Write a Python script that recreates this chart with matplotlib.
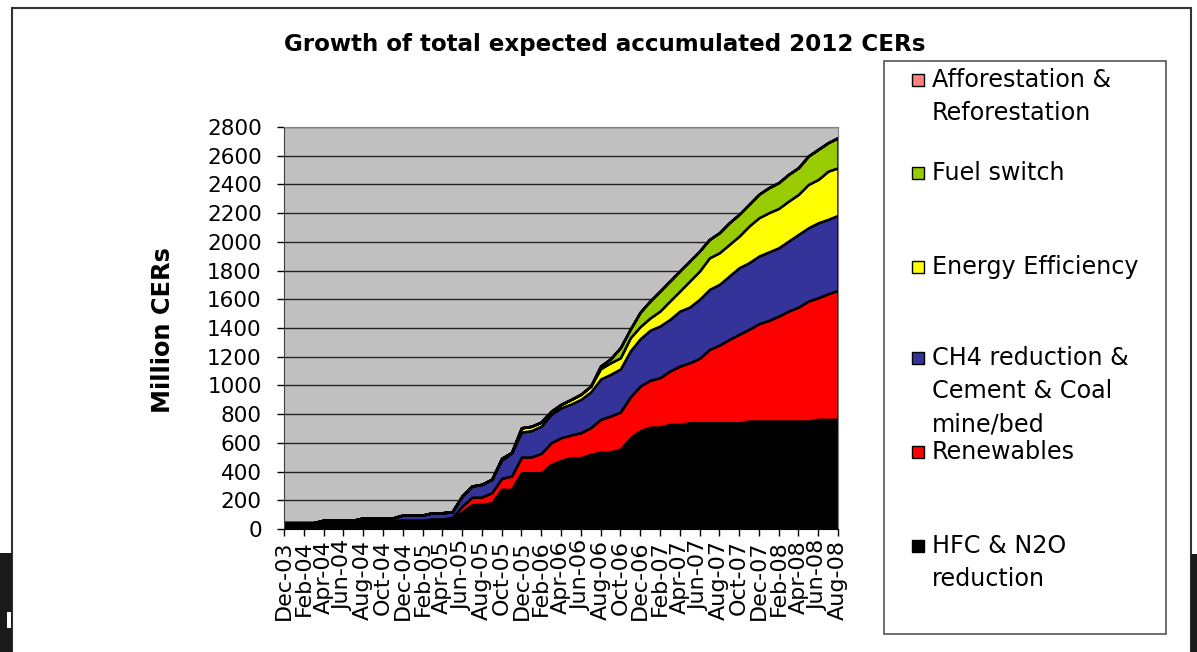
import matplotlib
matplotlib.use('Agg')
import matplotlib.pyplot as plt
from matplotlib.patches import Rectangle
import numpy as np

# monthly values Dec-03 .. Aug-08 (million CERs)
hfc = [44, 44, 44, 44, 61, 61, 61, 61, 61, 61, 61, 61, 62, 62, 62, 70, 70, 72, 120,
       170, 172, 183, 276, 276, 392, 392, 392, 450, 478, 497, 497, 520, 535, 538, 555,
       636, 685, 710, 710, 729, 729, 740, 740, 740, 740, 740, 740, 752, 752, 752, 752,
       752, 752, 752, 764, 764, 764]
renew = [0, 0, 0, 0, 0, 0, 0, 0, 0, 0, 0, 0, 0, 0, 0, 0, 0, 8, 40,
         51, 51, 70, 77, 93, 109, 110, 135, 151, 158, 158, 174, 186, 229, 249, 260,
         284, 311, 326, 344, 371, 406, 418, 449, 511, 541, 581, 616, 639, 678, 701, 731,
         766, 794, 836, 847, 875, 898]
ch4 = [0, 0, 0, 0, 0, 0, 0, 0, 16, 16, 16, 16, 35, 35, 35, 43, 43, 40, 70,
       78, 88, 93, 127, 161, 174, 183, 190, 197, 209, 215, 232, 249, 281, 290, 300,
       320, 329, 349, 360, 360, 383, 388, 411, 418, 423, 441, 464, 464, 471, 477, 476,
       488, 506, 510, 522, 518, 523]
ee = [0, 0, 0, 0, 0, 0, 0, 0, 0, 0, 0, 0, 0, 0, 0, 0, 0, 0, 0,
      0, 0, 0, 12, 3, 30, 30, 28, 22, 23, 32, 35, 40, 72, 81, 78,
      92, 85, 85, 104, 128, 139, 181, 197, 220, 220, 220, 220, 255, 267, 273, 274,
      278, 279, 302, 302, 336, 331]
fuel = [0, 0, 0, 0, 0, 0, 0, 0, 0, 0, 0, 0, 0, 0, 0, 0, 0, 0, 0,
        0, 0, 0, 0, 0, 0, 0, 0, 0, 0, 0, 0, 0, 18, 27, 70,
        60, 100, 118, 139, 139, 140, 139, 139, 128, 139, 151, 151, 151, 163, 174, 179,
        186, 185, 197, 209, 197, 209]
affo = [0, 0, 0, 0, 0, 0, 0, 0, 0, 0, 0, 0, 0, 0, 0, 0, 0, 0, 0,
        0, 0, 0, 0, 0, 0, 0, 0, 0, 0, 0, 0, 0, 0, 0, 0,
        0, 0, 0, 0, 0, 0, 0, 0, 0, 0, 0, 1, 1, 1, 1, 1,
        1, 2, 2, 2, 2, 2]

tick_labels = ['Dec-03', 'Feb-04', 'Apr-04', 'Jun-04', 'Aug-04', 'Oct-04', 'Dec-04',
               'Feb-05', 'Apr-05', 'Jun-05', 'Aug-05', 'Oct-05', 'Dec-05', 'Feb-06',
               'Apr-06', 'Jun-06', 'Aug-06', 'Oct-06', 'Dec-06', 'Feb-07', 'Apr-07',
               'Jun-07', 'Aug-07', 'Oct-07', 'Dec-07', 'Feb-08', 'Apr-08', 'Jun-08',
               'Aug-08']

series_names = ['HFC & N2O\nreduction', 'Renewables', 'CH4 reduction &\nCement & Coal\nmine/bed',
                'Energy Efficiency', 'Fuel switch', 'Afforestation &\nReforestation']
colors = ['#000000', '#ff0000', '#333399', '#ffff00', '#99cc00', '#ff8080']

W, H = 1197, 652
fig = plt.figure(figsize=(W / 100, H / 100), dpi=100)


# pixel -> figure fraction
def fx(px):
    return px / W


def fy(py):
    return 1 - py / H


# slide frame and dark edges of the screenshot
fig.add_artist(Rectangle((fx(12), fy(670)), fx(1191) - fx(12), fy(8) - fy(670),
                         transform=fig.transFigure, fill=False, edgecolor='#333333', lw=1.5))
fig.add_artist(Rectangle((0, 0), fx(12), fy(553), transform=fig.transFigure,
                         facecolor='#1a1a1a', edgecolor='none'))
fig.add_artist(Rectangle((fx(1191), 0), 1 - fx(1191), fy(554), transform=fig.transFigure,
                         facecolor='#1a1a1a', edgecolor='none'))
fig.add_artist(Rectangle((fx(7), fy(628)), fx(4), fy(612) - fy(628), transform=fig.transFigure,
                         facecolor='white', edgecolor='none'))

# plot area
ax = fig.add_axes([fx(284), fy(529), fx(838) - fx(284), fy(127) - fy(529)])
ax.set_facecolor('#c0c0c0')
x = np.arange(len(hfc))
ax.stackplot(x, hfc, renew, ch4, ee, fuel, affo, colors=colors,
             edgecolor='black', linewidth=1.8)

ax.set_xlim(0, len(hfc) - 1)
ax.set_ylim(0, 2800)
ax.set_yticks(np.arange(0, 2801, 200))
ax.set_xticks(np.arange(0, len(hfc), 2))
ax.set_xticklabels(tick_labels, rotation=90)
ax.set_axisbelow(True)
ax.yaxis.grid(True, color='#222222', lw=1.0)
ax.tick_params(axis='y', direction='out', length=5, width=1, pad=11, labelsize=15.5)
ax.tick_params(axis='x', direction='out', length=5, width=1, pad=3, labelsize=16)
for s in ['top', 'right']:
    ax.spines[s].set_color('#808080')
ax.spines['left'].set_color('#404040')
ax.spines['bottom'].set_color('black')

# titles
fig.text(fx(605), fy(44), 'Growth of total expected accumulated 2012 CERs',
         ha='center', va='center', fontsize=16.6, fontweight='bold')
fig.text(fx(163), fy(330), 'Million CERs', rotation=90, ha='center', va='center',
         fontsize=17.3, fontweight='bold')

# legend box drawn by hand, top entry first like in the original
fig.add_artist(Rectangle((fx(884), fy(634)), fx(1166) - fx(884), fy(61) - fy(634),
                         transform=fig.transFigure, facecolor='white', edgecolor='#555555', lw=1.2))
entry_y = [80, 173, 267, 358, 452, 546]
for i, yy in enumerate(entry_y):
    k = len(series_names) - 1 - i
    fig.add_artist(Rectangle((fx(912), fy(yy + 6)), fx(12), fy(0) - fy(12),
                             transform=fig.transFigure, facecolor=colors[k],
                             edgecolor='black', lw=1))
    for j, line in enumerate(series_names[k].split('\n')):
        fig.text(fx(932), fy(yy + 33 * j), line, ha='left', va='center', fontsize=17.2)

fig.savefig('out.png', dpi=100)
